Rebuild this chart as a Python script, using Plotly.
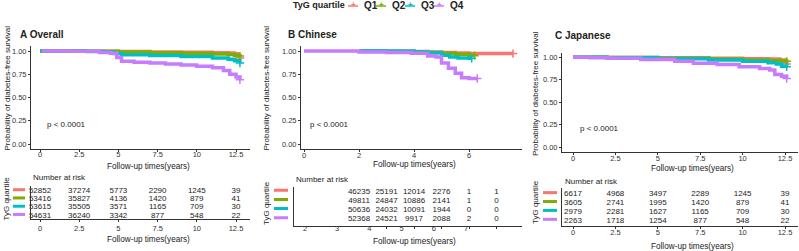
import plotly.graph_objects as go

# ---------------- data ----------------
groups = ["Q1", "Q2", "Q3", "Q4"]
colors = ["#F8766D", "#7CAE00", "#00BFC4", "#C77CFF"]

# Panel A Overall (time in years, survival probability)
A_Q1_t = [0, 1, 3, 5, 7, 9, 11, 12, 12.4, 12.6, 12.75]
A_Q1_s = [1, 0.999, 0.997, 0.995, 0.99, 0.987, 0.982, 0.978, 0.97, 0.945, 0.925]
A_Q2_t = [0, 1, 3, 5, 7, 9, 11, 12, 12.4, 12.6, 12.75]
A_Q2_s = [1, 0.999, 0.996, 0.99, 0.98, 0.975, 0.968, 0.962, 0.955, 0.95, 0.945]
A_Q3_t = [0, 1, 3, 4, 4.7, 5.2, 7, 9, 11, 12, 12.4, 12.75]
A_Q3_s = [1, 0.999, 0.995, 0.99, 0.972, 0.96, 0.952, 0.94, 0.925, 0.912, 0.895, 0.87]
A_Q4_t = [0.1, 1, 2, 3.8, 4.5, 4.9, 5.2, 6, 7, 8, 9, 10, 11, 11.7, 12.1, 12.5, 12.75]
A_Q4_s = [1, 0.999, 0.997, 0.985, 0.975, 0.93, 0.89, 0.88, 0.87, 0.86, 0.85, 0.835, 0.82, 0.79, 0.75, 0.72, 0.69]

# Panel B Chinese
B_Q1_t = [2, 3, 4, 4.5, 5, 5.5, 6, 7.6]
B_Q1_s = [1, 0.998, 0.995, 0.99, 0.985, 0.978, 0.972, 0.972]
B_Q2_t = [2, 3, 4, 4.5, 5, 5.5, 6, 6.2]
B_Q2_s = [1, 0.997, 0.992, 0.985, 0.975, 0.965, 0.955, 0.95]
B_Q3_t = [2, 3, 4, 4.5, 5, 5.3, 5.6, 6, 6.1]
B_Q3_s = [1, 0.996, 0.99, 0.98, 0.955, 0.935, 0.925, 0.922, 0.922]
B_Q4_t = [0, 2, 3, 3.9, 4.5, 4.8, 5.0, 5.25, 5.5, 5.73, 6.0, 6.3]
B_Q4_s = [1, 0.99, 0.985, 0.975, 0.945, 0.935, 0.87, 0.815, 0.76, 0.713, 0.705, 0.705]

# Panel C Japanese
C_Q1_t = [0, 2, 5, 8, 10, 11.5, 12.2, 12.5, 12.6]
C_Q1_s = [1, 0.998, 0.995, 0.99, 0.985, 0.98, 0.97, 0.945, 0.925]
C_Q2_t = [0, 2, 5, 8, 10, 11.5, 12.2, 12.6]
C_Q2_s = [1, 0.997, 0.99, 0.98, 0.97, 0.965, 0.96, 0.955]
C_Q3_t = [0, 2, 5, 8, 10, 11.5, 12.0, 12.3, 12.6]
C_Q3_s = [1, 0.995, 0.985, 0.97, 0.955, 0.94, 0.925, 0.90, 0.895]
C_Q4_t = [0, 1, 2.2, 4, 6, 7.1, 8.5, 9.8, 11, 11.6, 11.9, 12.3, 12.6]
C_Q4_s = [1, 0.995, 0.99, 0.975, 0.955, 0.935, 0.92, 0.895, 0.875, 0.86, 0.81, 0.79, 0.765]

# Number at risk
risk_times_A = [0, 2.5, 5, 7.5, 10, 12.5]
risk_A_Q1 = [52852, 37274, 5773, 2290, 1245, 39]
risk_A_Q2 = [53416, 35827, 4136, 1420, 879, 41]
risk_A_Q3 = [53615, 35505, 3571, 1165, 709, 30]
risk_A_Q4 = [54631, 36240, 3342, 877, 548, 22]

risk_times_B = [2, 3, 4, 5, 6, 7]
risk_B_Q1 = [46235, 25191, 12014, 2276, 1, 1]
risk_B_Q2 = [49811, 24847, 10886, 2141, 1, 0]
risk_B_Q3 = [50636, 24032, 10091, 1944, 0, 0]
risk_B_Q4 = [52368, 24521, 9917, 2088, 2, 0]

risk_times_C = [0, 2.5, 5, 7.5, 10, 12.5]
risk_C_Q1 = [6617, 4968, 3497, 2289, 1245, 39]
risk_C_Q2 = [3605, 2741, 1995, 1420, 879, 41]
risk_C_Q3 = [2979, 2281, 1627, 1165, 709, 30]
risk_C_Q4 = [2263, 1718, 1254, 877, 548, 22]

ticks_AC = [0, 2.5, 5, 7.5, 10, 12.5]
ticklabels_AC = ["0", "2.5", "5", "7.5", "10", "12.5"]
ticks_B = [0, 2, 4, 6]
ticklabels_B = ["0", "2", "4", "6"]
ticks_B_risk = [2, 3, 4, 5, 6, 7]
ticks_y = [0, 0.25, 0.5, 0.75, 1.0]
ticklabels_y = ["0.00", "0.25", "0.50", "0.75", "1.00"]

# ---------------- helpers ----------------
W, H = 799, 251
FONT = "Liberation Sans, Arial, sans-serif"


def fx(p):
    return p / W


def fy(p):
    return 1 - p / H


fig = go.Figure()

km = {
    "A": [(A_Q1_t, A_Q1_s), (A_Q2_t, A_Q2_s), (A_Q3_t, A_Q3_s), (A_Q4_t, A_Q4_s)],
    "B": [(B_Q1_t, B_Q1_s), (B_Q2_t, B_Q2_s), (B_Q3_t, B_Q3_s), (B_Q4_t, B_Q4_s)],
    "C": [(C_Q1_t, C_Q1_s), (C_Q2_t, C_Q2_s), (C_Q3_t, C_Q3_s), (C_Q4_t, C_Q4_s)],
}
km_axes = {"A": ("x", "y"), "B": ("x2", "y2"), "C": ("x3", "y3")}
for panel, curves in km.items():
    xa, ya = km_axes[panel]
    for g, col, (t, s) in zip(groups, colors, curves):
        fig.add_trace(go.Scatter(x=t, y=s, mode="lines", line=dict(color=col, width=3.5, shape="hv"),
                                 xaxis=xa, yaxis=ya, showlegend=False, hoverinfo="skip"))
        fig.add_trace(go.Scatter(x=[t[-1]], y=[s[-1]], mode="markers",
                                 marker=dict(symbol="cross-thin", size=6, line=dict(color=col, width=1.5)),
                                 xaxis=xa, yaxis=ya, showlegend=False, hoverinfo="skip"))

risk = {
    "A": (risk_times_A, [risk_A_Q1, risk_A_Q2, risk_A_Q3, risk_A_Q4], "x4", "y4"),
    "B": (risk_times_B, [risk_B_Q1, risk_B_Q2, risk_B_Q3, risk_B_Q4], "x5", "y5"),
    "C": (risk_times_C, [risk_C_Q1, risk_C_Q2, risk_C_Q3, risk_C_Q4], "x6", "y6"),
}
for panel, (times, rows, xa, ya) in risk.items():
    for i, r in enumerate(rows):
        fig.add_trace(go.Scatter(x=times, y=[4 - i] * len(times), mode="text",
                                 text=[str(v) for v in r], textposition="middle center",
                                 textfont=dict(family=FONT, size=8, color="#222"),
                                 xaxis=xa, yaxis=ya, showlegend=False, hoverinfo="skip",
                                 cliponaxis=False))

# ---------------- axes ----------------
axis_common = dict(showline=True, linecolor="#333", linewidth=1, showgrid=False, zeroline=False,
                   ticks="outside", ticklen=2, tickwidth=1, tickcolor="#333",
                   tickfont=dict(family=FONT, size=7.5, color="#333"))

# pixel geometry
KM = {
    "A": dict(x0=31, x1=250, zero=40, ppy=196 / 12.5, top=46.35, bot=148.65, so=-4),
    "B": dict(x0=301, x1=522, zero=304, ppy=27.5, top=46.35, bot=148.65, so=-3),
    "C": dict(x0=562, x1=798, zero=573, ppy=212 / 12.5, top=52.8, bot=151.8, so=-3),
}
RK = {
    "A": dict(x0=31, x1=250, top=186, bot=219, r0=0.6, r1=4.6, so=0),
    "B": dict(x0=294, x1=522, top=186.7, bot=226, r0=0.23, r1=4.55, so=-4),
    "C": dict(x0=562, x1=798, top=188, bot=226, r0=0.4, r1=4.67, so=-3),
}

layout = dict(width=W, height=H, margin=dict(l=0, r=0, t=0, b=0),
              paper_bgcolor="white", plot_bgcolor="white", showlegend=False)

for idx, p in zip([1, 2, 3], ["A", "B", "C"]):
    g = KM[p]
    xr = [(g["x0"] - g["zero"]) / g["ppy"], (g["x1"] - g["zero"]) / g["ppy"]]
    xk = "xaxis" if idx == 1 else f"xaxis{idx}"
    yk = "yaxis" if idx == 1 else f"yaxis{idx}"
    ysfx = "y" if idx == 1 else f"y{idx}"
    xsfx = "x" if idx == 1 else f"x{idx}"
    tv, tt = (ticks_B, ticklabels_B) if p == "B" else (ticks_AC, ticklabels_AC)
    layout[xk] = dict(axis_common, domain=[fx(g["x0"]), fx(g["x1"])], range=xr, anchor=ysfx,
                      tickvals=tv, ticktext=tt, ticklabelstandoff=g["so"])
    layout[yk] = dict(axis_common, domain=[fy(g["bot"]), fy(g["top"])], range=[-0.05, 1.05], anchor=xsfx,
                      tickvals=ticks_y, ticktext=ticklabels_y)

for idx, p in zip([4, 5, 6], ["A", "B", "C"]):
    g = RK[p]
    k = KM[p]
    xr = [(g["x0"] - k["zero"]) / k["ppy"], (g["x1"] - k["zero"]) / k["ppy"]]
    if p == "B":
        xextra = dict(tickvals=[3, 4, 5, 6, 7], showticklabels=False)
    else:
        xextra = dict(tickvals=ticks_AC, ticktext=ticklabels_AC, ticklabelstandoff=g["so"])
    layout[f"xaxis{idx}"] = dict(axis_common, domain=[fx(g["x0"]), fx(g["x1"])], range=xr,
                                 anchor=f"y{idx}", **xextra)
    layout[f"yaxis{idx}"] = dict(showline=True, linecolor="#333", linewidth=1, showgrid=False,
                                 zeroline=False, ticks="", showticklabels=False,
                                 domain=[fy(g["bot"]), fy(g["top"])], range=[g["r0"], g["r1"]],
                                 anchor=f"x{idx}")

# overlay axis carrying the (shifted) tick labels of the Chinese risk table
gB = RK["B"]
lab_ppu = 32.2
layout["xaxis7"] = dict(showline=False, showgrid=False, zeroline=False, ticks="",
                        tickfont=dict(family=FONT, size=7.5, color="#333"),
                        overlaying="x5", anchor="y5", ticklabelstandoff=gB["so"],
                        range=[2 - (305 - gB["x0"]) / lab_ppu, 2 + (gB["x1"] - 305) / lab_ppu],
                        tickvals=ticks_B_risk, ticktext=[str(v) for v in ticks_B_risk])
fig.add_trace(go.Scatter(x=[2], y=[-5], mode="markers", marker=dict(opacity=0), xaxis="x7", yaxis="y5",
                         showlegend=False, hoverinfo="skip"))

fig.update_layout(**layout)

# ---------------- annotations ----------------
ann = []


def text(x, y, s, size=8, bold=False, xanchor="center", angle=0, color="#222"):
    ann.append(dict(x=fx(x), y=fy(y), xref="paper", yref="paper", text=f"<b>{s}</b>" if bold else s,
                    showarrow=False, xanchor=xanchor, yanchor="middle", textangle=angle,
                    font=dict(family=FONT, size=size, color=color)))


# panel titles
text(17.5, 34, "A Overall", size=10, bold=True, xanchor="left")
text(286, 34, "B Chinese", size=10, bold=True, xanchor="left")
text(553, 35, "C Japanese", size=10, bold=True, xanchor="left")

# y titles
text(6.5, 88, "Probability of diabetes-free survival", size=8, angle=-90)
text(265.5, 88, "Probability of diabetes-free survival", size=8, angle=-90)
text(535, 94, "Probability of diabetes-free survival", size=8, angle=-90)

# x titles
text(148, 166.5, "Follow-up times(years)", size=8.2)
text(415, 164, "Follow-up times(years)", size=8.2)
text(692, 168.5, "Follow-up times(years)", size=8.2)
text(148, 239, "Follow-up times(years)", size=8.2)
text(415, 241.5, "Follow-up times(years)", size=8.2)
text(692, 246.5, "Follow-up times(years)", size=8.2)

# number at risk headers
text(31, 177, "Number at risk", size=8, xanchor="left")
text(294, 179, "Number at risk", size=8, xanchor="left")
text(563, 181, "Number at risk", size=8, xanchor="left")

# risk table y titles
text(5.5, 199, "TyG quartile", size=8, angle=-90)
text(266, 203, "TyG quartile", size=8, angle=-90)
text(535, 202, "TyG quartile", size=8, angle=-90)

# p values (data coords)
for xa, ya, xv in [("x", "y", 0.3), ("x2", "y2", 0.15), ("x3", "y3", 0.3)]:
    ann.append(dict(x=xv, y=0.21, xref=xa, yref=ya, text="p < 0.0001", showarrow=False,
                    xanchor="left", yanchor="middle", font=dict(family=FONT, size=8, color="#222")))

# top legend
text(291, 5.5, "TyG quartile", size=9, bold=True, xanchor="left")
shapes = []
leg_sym = [353, 381, 410, 439]
for g, col, sx in zip(groups, colors, leg_sym):
    shapes.append(dict(type="line", xref="paper", yref="paper", x0=fx(sx - 5), x1=fx(sx + 5),
                       y0=fy(6), y1=fy(6), line=dict(color=col, width=1.5)))
    text(sx, 5, "+", size=8, bold=True, color=col)
    text(sx + 9, 5.5, g, size=10, bold=True, xanchor="left")

# risk table colour keys
key_x = {"A": (13, 25, "y4"), "B": (274, 288, "y5"), "C": (543, 557, "y6")}
for p, (a, b, ya) in key_x.items():
    for i, col in enumerate(colors):
        shapes.append(dict(type="line", xref="paper", yref=ya, x0=fx(a), x1=fx(b),
                           y0=4 - i + 0.15, y1=4 - i + 0.15, line=dict(color=col, width=3)))

fig.update_layout(annotations=ann, shapes=shapes)
fig.write_html("out.html")
